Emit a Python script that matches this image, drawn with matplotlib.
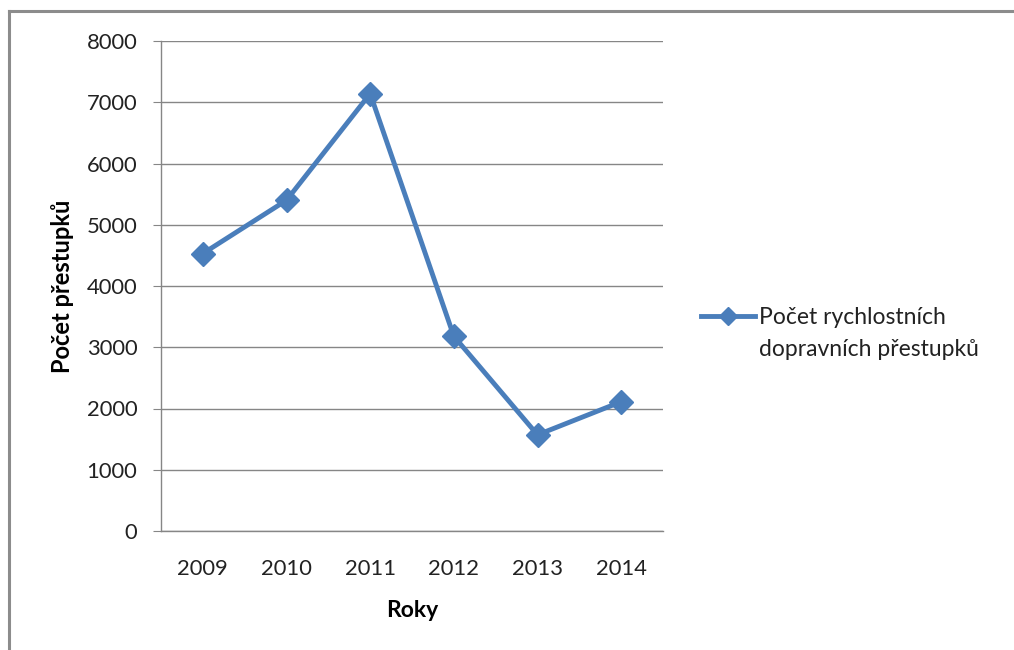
import matplotlib
matplotlib.use("Agg")
import matplotlib.pyplot as plt
from matplotlib.lines import Line2D

years = ["2009", "2010", "2011", "2012", "2013", "2014"]
values = [4530, 5400, 7140, 3180, 1570, 2110]
y_ticks = [0, 1000, 2000, 3000, 4000, 5000, 6000, 7000, 8000]
series_label = "Počet rychlostních\ndopravních přestupků"
x_label = "Roky"
y_label = "Počet přestupků"

plt.rcParams['font.family'] = ['Lato', 'DejaVu Sans']

W, H = 1014, 650
fig = plt.figure(figsize=(W / 100, H / 100), dpi=100)
ax = fig.add_axes([161 / W, 1 - 531 / H, (663 - 161) / W, (531 - 41) / H])

line_color = "#4A7EBB"
grid_color = "#868686"
text_color = "#222222"
fs = 15.8
leg_fs = 16.5

label_lines = series_label.split("\n")

x = list(range(len(years)))
ax.plot(x, values, color=line_color, lw=3.5, marker="D", markersize=12,
        markerfacecolor=line_color, markeredgecolor=line_color,
        label=label_lines[0], zorder=3, solid_joinstyle="round")

ax.set_xlim(-0.5, len(years) - 0.5)
ax.set_ylim(0, 8000)
ax.set_yticks(y_ticks)
ax.set_yticklabels([str(v) for v in y_ticks])
ax.set_xticks(x)
ax.set_xticklabels(years)

ax.yaxis.grid(True, color=grid_color, lw=1)
ax.set_axisbelow(True)
for s in ["top", "right"]:
    ax.spines[s].set_visible(False)
for s in ["left", "bottom"]:
    ax.spines[s].set_color(grid_color)
    ax.spines[s].set_linewidth(1)

ax.tick_params(axis="y", length=6, color=grid_color, labelsize=fs, pad=11, labelcolor=text_color)
ax.tick_params(axis="x", length=0, labelsize=fs, pad=20, labelcolor=text_color)

ax.set_xlabel(x_label, fontsize=16.5, fontweight="bold", labelpad=15, color="black")
ax.set_ylabel(y_label, fontsize=17, fontweight="bold", labelpad=9, color="black")

leg = fig.legend(loc="center left", bbox_to_anchor=(701 / W, 1 - 318 / H),
                 frameon=False, fontsize=leg_fs, handlelength=2.35, handletextpad=0.2,
                 borderaxespad=0, borderpad=0, markerscale=0.8)
for t in leg.get_texts():
    t.set_color(text_color)
fig.text(759 / W, 1 - 350 / H, label_lines[1], fontsize=leg_fs, color=text_color,
         ha="left", va="center")

# outer chart border (top and left visible)
fig.add_artist(Line2D([9 / W, 1.0], [1 - 11 / H, 1 - 11 / H], transform=fig.transFigure,
                      color="#8C8C8C", lw=2.2))
fig.add_artist(Line2D([9 / W, 9 / W], [0, 1 - 11 / H], transform=fig.transFigure,
                      color="#8C8C8C", lw=2.2))

fig.savefig("out.png", dpi=100, facecolor="white")
